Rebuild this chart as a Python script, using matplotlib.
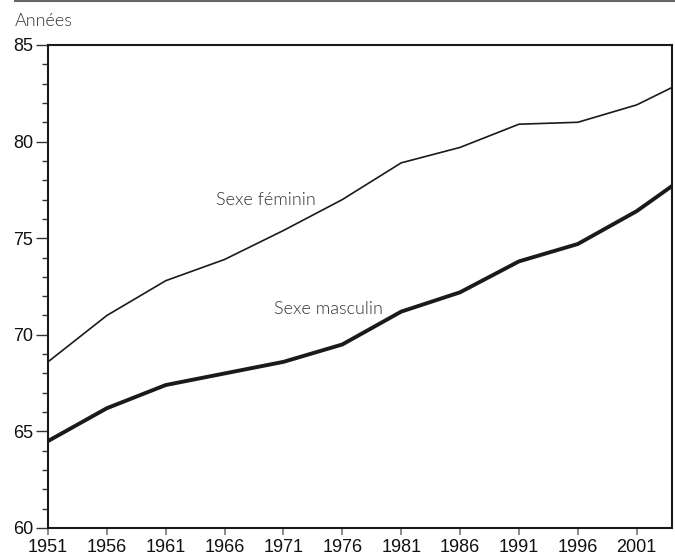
import matplotlib.pyplot as plt
from matplotlib.lines import Line2D
from matplotlib.ticker import MultipleLocator

# espérance de vie à la naissance
annees = [1951, 1956, 1961, 1966, 1971, 1976, 1981, 1986, 1991, 1996, 2001, 2004]
feminin = [68.6, 71.0, 72.8, 73.9, 75.4, 77.0, 78.9, 79.7, 80.9, 81.0, 81.9, 82.8]
masculin = [64.5, 66.2, 67.4, 68.0, 68.6, 69.5, 71.2, 72.2, 73.8, 74.7, 76.4, 77.7]
ticks_x = [1951, 1956, 1961, 1966, 1971, 1976, 1981, 1986, 1991, 1996, 2001]
ticks_y = [60, 65, 70, 75, 80, 85]

plt.rcParams['font.family'] = ['Liberation Sans', 'DejaVu Sans']

W, H = 675, 556
fig = plt.figure(figsize=(W / 100, H / 100), dpi=100)
ax = fig.add_axes([48 / W, 28 / H, 624 / W, 483 / H])

ax.plot(annees, feminin, color='#1a1a1a', lw=1.2, solid_joinstyle='miter')
ax.plot(annees, masculin, color='#1a1a1a', lw=2.8, solid_joinstyle='miter')

ax.set_xlim(1951, 2004)
ax.set_ylim(60, 85)
ax.set_xticks(ticks_x)
ax.set_yticks(ticks_y)
ax.yaxis.set_minor_locator(MultipleLocator(1))

for s in ax.spines.values():
    s.set_color('#1a1a1a')
    s.set_linewidth(1.5)

ax.tick_params(axis='y', which='major', length=8.5, width=1, color='#333',
               labelsize=13, labelcolor='#111', pad=2)
ax.tick_params(axis='y', which='minor', length=4.3, width=1, color='#333')
ax.tick_params(axis='x', length=5, width=1.2, color='#777',
               labelsize=13, labelcolor='#111', pad=3)

# étiquettes des courbes
lab = dict(family=['Lato', 'DejaVu Sans'], fontweight=300, fontsize=13,
           color='#333', ha='center', va='baseline')
ax.text(1969.5, 76.7, 'Sexe féminin', **lab)
ax.text(1974.8, 71.1, 'Sexe masculin', **lab)

fig.text(15 / W, 1 - 26 / H, 'Années', family=['Lato', 'DejaVu Sans'],
         fontweight=300, fontsize=13, color='#333', ha='left', va='baseline')
fig.add_artist(Line2D([15 / W, 1], [1 - 1 / H, 1 - 1 / H], color='#666', lw=1.5))

fig.savefig('out.png', dpi=100)
